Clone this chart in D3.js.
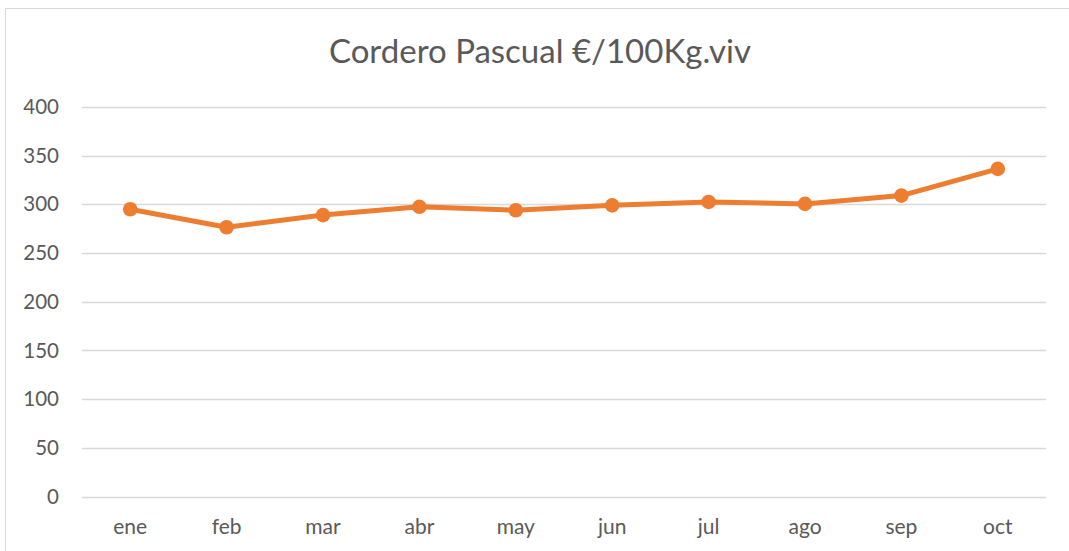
<!DOCTYPE html>
<html><head><meta charset="utf-8">
<script src="https://cdn.jsdelivr.net/npm/d3@7"></script>
<style>
html,body{margin:0;padding:0;background:#fff;}
svg{display:block;font-family:Lato, "Open Sans", sans-serif;}
</style></head>
<body>
<svg id="chart" width="1069" height="551"></svg>
<script>
const categories = ["ene","feb","mar","abr","may","jun","jul","ago","sep","oct"];
const values = [295, 276.5, 289, 297.5, 294, 299, 302.5, 300.5, 309, 336.5];
const yTicks = [0,50,100,150,200,250,300,350,400];
const title = "Cordero Pascual €/100Kg.viv";

const svg = d3.select("#chart");
const W = 1069, H = 551;
const m = {left:82, right:23, top:107, bottom:55};
const textColor = "#595959";

// chart area border
svg.append("rect").attr("x",5.5).attr("y",8.5).attr("width",1080).attr("height",560)
  .attr("fill","#fff").attr("stroke","#d9d9d9").attr("stroke-width",1);

const x = d3.scaleBand().domain(categories).range([m.left, W - m.right]);
const y = d3.scaleLinear().domain([0,400]).range([496.5, 107]);

// gridlines
svg.append("g").selectAll("line").data(yTicks).join("line")
  .attr("x1", m.left).attr("x2", W - m.right)
  .attr("y1", d => Math.round(y(d)) + 0.5).attr("y2", d => Math.round(y(d)) + 0.5)
  .attr("stroke","#d9d9d9").attr("stroke-width",1.3);

// y axis
const yAxis = d3.axisLeft(y).tickValues(yTicks).tickSize(0).tickPadding(0);
const gy = svg.append("g").attr("transform","translate(59,0)").call(yAxis);
gy.select(".domain").remove();
gy.selectAll("text").attr("fill",textColor).attr("font-size","20.5px")
  .attr("font-family","Lato, 'Open Sans', sans-serif");

// x axis
const xAxis = d3.axisBottom(x).tickSize(0).tickPadding(0);
const gx = svg.append("g").attr("transform","translate(0,523)").call(xAxis);
gx.select(".domain").remove();
gx.selectAll("text").attr("fill",textColor).attr("font-size","21px")
  .attr("font-family","Lato, 'Open Sans', sans-serif").attr("dy","0.5em");

// line
const cx = d => x(d) + x.bandwidth()/2;
const data = categories.map((c,i)=>({c, v: values[i]}));
svg.append("path").datum(data)
  .attr("fill","none").attr("stroke","#ED7D31").attr("stroke-width",5)
  .attr("stroke-linejoin","round").attr("stroke-linecap","round")
  .attr("d", d3.line().x(d=>cx(d.c)).y(d=>y(d.v)));

svg.append("g").selectAll("circle").data(data).join("circle")
  .attr("cx", d=>cx(d.c)).attr("cy", d=>y(d.v)).attr("r",7.3)
  .attr("fill","#ED7D31");

// title
svg.append("text").attr("x",540).attr("y",63).attr("text-anchor","middle")
  .attr("fill",textColor).attr("font-size","33px").text(title);
</script>
</body></html>
